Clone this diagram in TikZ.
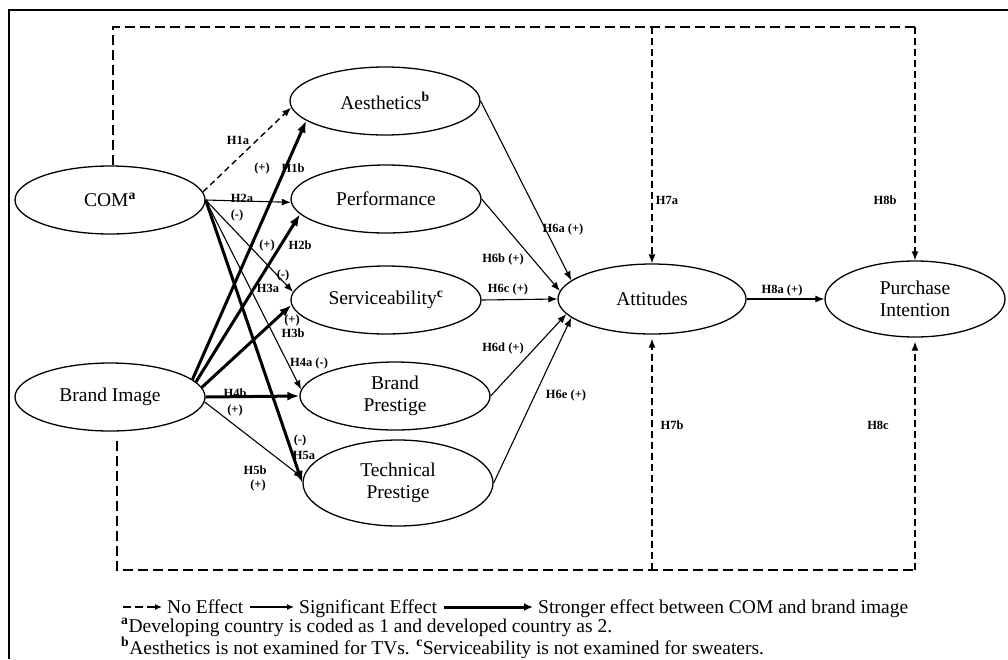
\documentclass[tikz,border=0pt]{standalone}
\usepackage{fontspec}
\setmainfont{Liberation Serif}
\usetikzlibrary{shapes.geometric,arrows.meta,calc}
\newcommand\varfont{\fontsize{19.5}{22}\selectfont}
\newcommand\hypfont{\fontsize{12.5}{14}\selectfont\bfseries}
\newcommand\legfont{\fontsize{19.5}{21.5}\selectfont}
\newcommand\supb[1]{\textsuperscript{\textbf{#1}}}

\begin{document}
\begin{tikzpicture}[x=1pt,y=-1pt,
  var/.style={ellipse,draw,line width=1.3pt,minimum width=190pt,minimum height=68pt,
              inner sep=0pt,align=center,font=\varfont},
  hyp/.style={font=\hypfont,inner sep=0pt},
  leg/.style={font=\legfont,inner sep=0pt,anchor=base west},
  sig/.style={line width=1.1pt,-{Latex[length=9pt,width=7pt]}},
  strong/.style={line width=3pt,-{Latex[length=12pt,width=9pt]}},
  noeff/.style={line width=1.4pt,dash pattern=on 6pt off 4pt,-{Latex[length=9pt,width=7pt]}},
  loopdash/.style={line width=1.9pt,dash pattern=on 10pt off 5pt},
  vdash/.style={line width=1.3pt,dash pattern=on 7pt off 4pt,-{Latex[length=9pt,width=7pt]}},
]
\useasboundingbox (0,0) rectangle (1008,659);

% outer frame
\draw[line width=1.6pt] (9,659) -- (9,10) -- (1008,10);

% constructs
\node[var] (com)  at (110,200) {COM\supb{a}};
\node[var] (bi)   at (110,397) {Brand Image};
\node[var] (aes)  at (385,101) {Aesthetics\supb{b}};
\node[var] (perf) at (386,199) {Performance};
\node[var] (serv) at (386,300) {Serviceability\supb{c}};
\node[var] (bp)   at (395,396) {Brand\\Prestige};
\node[var,minimum height=86pt] (tp) at (398,483) {Technical\\Prestige};
\node[var,minimum width=188pt,minimum height=70pt] (att) at (652,299) {Attitudes};
\node[var,minimum width=180pt,minimum height=76pt] (pi) at (915,299) {Purchase\\Intention};

% COM paths
\draw[noeff]  (com.5)    -- (aes.184);
\draw[sig]    (com.east) -- (perf.182);
\draw[sig]    (com.east) -- (serv.175);
\draw[sig]    (com.east) -- (bp.176);
\draw[strong] (com.east) -- (tp.west);

% brand image paths
\draw[strong] (bi.12)   -- (aes.194);
\draw[strong] (bi.10)   -- (perf.190);
\draw[strong] (bi.6)    -- (serv.183);
\draw[strong] (bi.east) -- (bp.west);
\draw[sig]    (bi.-3)   -- (tp.177);

% paths to attitudes and intention
\draw[sig] (aes.east)  -- (att.167);
\draw[sig] (perf.east) -- (att.175);
\draw[sig] (serv.east) -- (att.west);
\draw[sig] (bp.east)   -- (att.190);
\draw[sig] (tp.east)   -- (att.193);
\draw[sig] (att.east)  -- (pi.west);

% moderating loops
\coordinate (topy) at (0,27);
\coordinate (boty) at (0,570);
\coordinate (tr) at (topy -| pi.north);
\coordinate (br) at (boty -| pi.south);
\coordinate (ta) at (topy -| att.north);
\coordinate (ba) at (boty -| att.south);
\coordinate (comtop) at ([xshift=3pt]com.north);
\coordinate (bistart) at ([xshift=7pt,yshift=-9pt]bi.south);
\draw[loopdash] (comtop) |- (tr);
\draw[loopdash] (bistart) |- (br);
\draw[vdash] (tr) -- (pi.north);
\draw[vdash] (ta) -- (att.north);
\draw[vdash,shorten >=4pt] (br) -- (pi.south);
\draw[vdash,shorten >=4pt] (ba) -- (att.south);

% hypothesis labels
\node[hyp] (h1a)  at (238,140) {H1a};
\node[hyp] (h1bs) at (262,168) {(+)};
\node[hyp] (h1b)  at (293,168) {H1b};
\node[hyp] (h2a)  at (242,198) {H2a};
\node[hyp] (h2as) at (237,215) {(-)};
\node[hyp] (h2bs) at (267,245) {(+)};
\node[hyp] (h2b)  at (300,245) {H2b};
\node[hyp] (h3as) at (283,275) {(-)};
\node[hyp] (h3a)  at (268,288) {H3a};
\node[hyp] (h3bs) at (292,320) {(+)};
\node[hyp] (h3b)  at (293,333) {H3b};
\node[hyp] (h4a)  at (309,363) {H4a (-)};
\node[hyp] (h4b)  at (235,393) {H4b};
\node[hyp] (h4bs) at (235,410) {(+)};
\node[hyp] (h5as) at (300,440) {(-)};
\node[hyp] (h5a)  at (304,455) {H5a};
\node[hyp] (h5b)  at (255,470) {H5b};
\node[hyp] (h5bs) at (258,485) {(+)};
\node[hyp] (h6a)  at (563,229) {H6a (+)};
\node[hyp] (h6b)  at (503,259) {H6b (+)};
\node[hyp] (h6c)  at (508,289) {H6c (+)};
\node[hyp] (h6d)  at (503,348) {H6d (+)};
\node[hyp] (h6e)  at (566,395) {H6e (+)};
\node[hyp] (h7a)  at (667,200) {H7a};
\node[hyp] (h8b)  at (885,200) {H8b};
\node[hyp] (h8a)  at (782,290) {H8a (+)};
\node[hyp] (h7b)  at (672,425) {H7b};
\node[hyp] (h8c)  at (878,425) {H8c};

% key
\coordinate (k1a) at (123,607);
\coordinate (k1b) at (162,607);
\coordinate (k2a) at (250,607);
\coordinate (k2b) at (294,607);
\coordinate (k3a) at (444,607);
\coordinate (k3b) at (533,607);
\draw[line width=1.2pt,dash pattern=on 8pt off 4pt,-{Latex[length=7pt,width=6pt]}] (k1a) -- (k1b);
\draw[line width=1.2pt,-{Latex[length=7pt,width=6pt]}] (k2a) -- (k2b);
\draw[line width=3pt,-{Latex[length=9pt,width=8pt]}] (k3a) -- (k3b);
\node[leg] (kno)  at (167,613) {No Effect};
\node[leg] (ksig) at (299,613) {Significant Effect};
\node[leg] (kstr) at (538,613) {Stronger effect between COM and brand image};
\node[leg] (fna)  at (121,632.5) {\supb{a}Developing country is coded as 1 and developed country as 2.};
\node[leg] (fnb)  at (121,654) {\supb{b}Aesthetics is not examined for TVs. \supb{c}Serviceability is not examined for sweaters.};
\end{tikzpicture}
\end{document}
